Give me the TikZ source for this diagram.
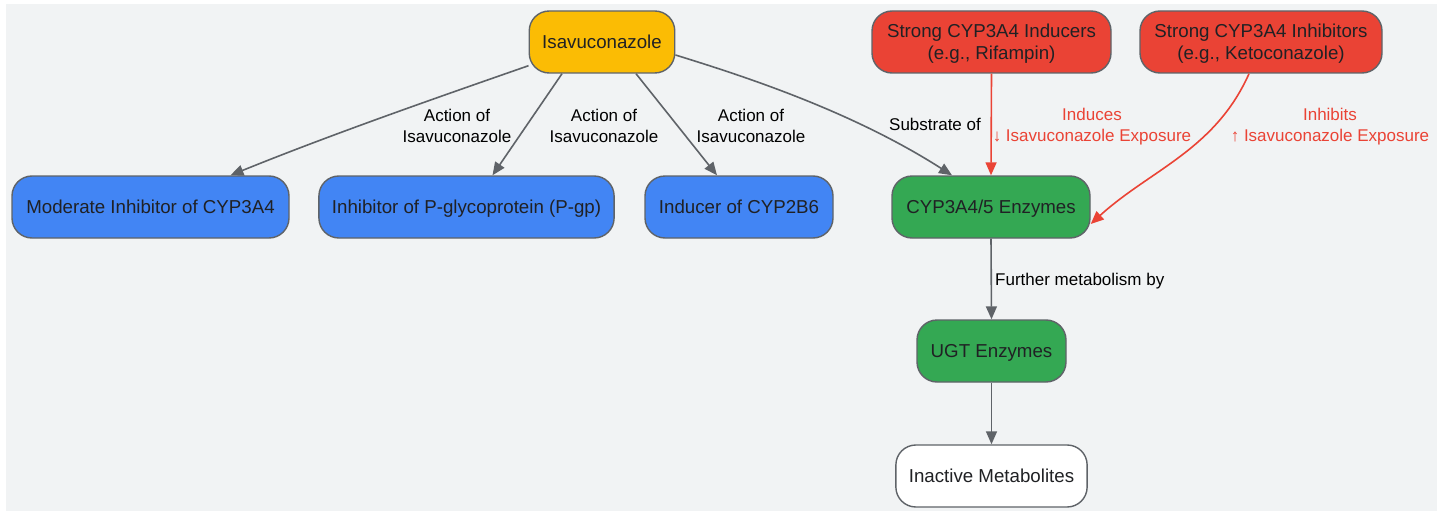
\documentclass[tikz,border=0pt]{standalone}
\usepackage{fontspec}
\setmainfont{Liberation Sans}
\usetikzlibrary{arrows.meta}
\definecolor{bg}{HTML}{F1F3F4}
\definecolor{edgegray}{HTML}{5F6368}
\definecolor{gyellow}{HTML}{FBBC04}
\definecolor{gred}{HTML}{EA4335}
\definecolor{gblue}{HTML}{4285F4}
\definecolor{ggreen}{HTML}{34A853}
\definecolor{txt}{HTML}{202124}
\tikzset{
  box/.style={draw=edgegray, line width=1.4pt, rounded corners=20pt, minimum height=62pt,
    inner xsep=13pt, inner ysep=2pt, align=center, text=txt, text height=17.4pt, text depth=4pt,
    font=\fontsize{18.7}{22}\selectfont},
  yellowbox/.style={box, fill=gyellow},
  redbox/.style={box, fill=gred, text height=39.4pt, text depth=4pt},
  bluebox/.style={box, fill=gblue},
  greenbox/.style={box, fill=ggreen},
  whitebox/.style={box, fill=white},
  conn/.style={draw=edgegray, line width=1.6pt, -{Triangle[length=13pt,width=11pt]}},
  redconn/.style={draw=gred, line width=1.6pt, -{Triangle[length=13pt,width=11pt]}},
  lbl/.style={align=center, text=black, font=\fontsize{17}{21}\selectfont, inner sep=0pt},
  redlbl/.style={lbl, text=gred},
}
\begin{document}
\begin{tikzpicture}[x=1pt,y=-1pt]
\useasboundingbox (0,0) rectangle (1448,511);
\fill[bg] (6,4) rectangle (1437,511);

\node[yellowbox, minimum width=145pt] (iso) at (602,42) {Isavuconazole};
\node[redbox, minimum width=239pt] (ind) at (991.5,42) {Strong CYP3A4 Inducers\\(e.g., Rifampin)};
\node[redbox, minimum width=242pt] (inh) at (1261,42) {Strong CYP3A4 Inhibitors\\(e.g., Ketoconazole)};

\node[bluebox, minimum width=277pt] (mod) at (150.5,207) {Moderate Inhibitor of CYP3A4};
\node[bluebox, minimum width=295pt] (pgp) at (466.5,207) {Inhibitor of P-glycoprotein (P-gp)};
\node[bluebox, minimum width=188pt] (cyp2b6) at (739,207) {Inducer of CYP2B6};
\node[greenbox, minimum width=198pt] (cyp3a) at (991,207) {CYP3A4/5 Enzymes};
\node[greenbox, minimum width=149pt] (ugt) at (991.5,351) {UGT Enzymes};
\node[whitebox, minimum width=191pt] (inact) at (991.5,476) {Inactive Metabolites};

% edges from Isavuconazole
\draw[conn] (iso.south west) ++(0,-8) coordinate (a1)
  (a1) .. controls (430,100) and (330,135) .. ([xshift=80pt]mod.north);
\draw[conn] ([xshift=-40pt]iso.south) -- ([xshift=26pt]pgp.north);
\draw[conn] ([xshift=34pt]iso.south) -- ([xshift=-22pt]cyp2b6.north);
\draw[conn] ([yshift=-13pt]iso.east) .. controls (740,75) and (850,110) .. ([xshift=-39pt]cyp3a.north);

\node[lbl] (l1) at (457,125.5) {Action of\\Isavuconazole};
\node[lbl] (l2) at (604,125.5) {Action of\\Isavuconazole};
\node[lbl] (l3) at (751,125.5) {Action of\\Isavuconazole};
\node[lbl] (l4) at (935,124.5) {Substrate of};

% red edges
\draw[redconn] (ind.south) -- (cyp3a.north);
\draw[redconn] ([xshift=-12pt]inh.south) .. controls (1215,150) and (1150,170) .. ([yshift=-17pt]cyp3a.east);
\node[redlbl] (l5) at (1092,127) {Induces\\↓ Isavuconazole Exposure};
\node[redlbl] (l6) at (1330,127) {Inhibits\\↑ Isavuconazole Exposure};

% metabolism chain
\draw[conn] (cyp3a.south) -- (ugt.north);
\node[lbl, anchor=west] (l7) at (995,281) {Further metabolism by};
\draw[conn] (ugt.south) -- (inact.north);
\end{tikzpicture}
\end{document}
